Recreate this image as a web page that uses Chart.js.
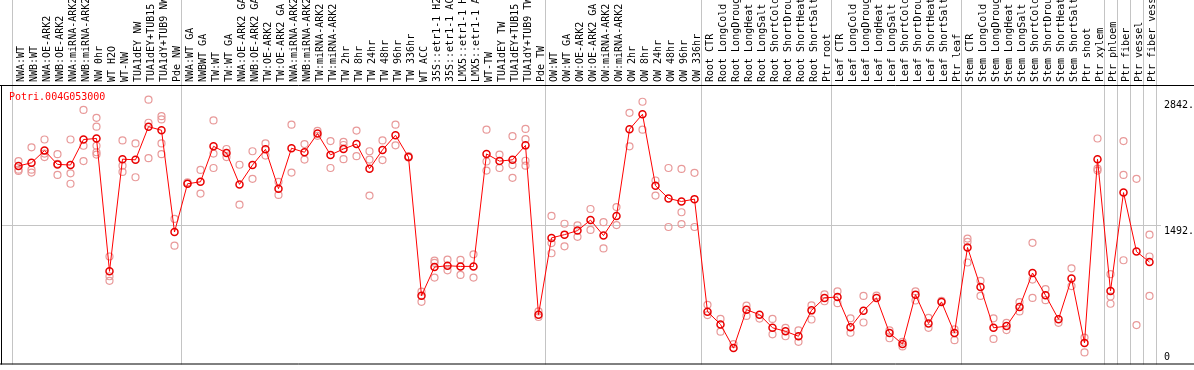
<!DOCTYPE html>
<html>
<head>
<meta charset="utf-8">
<script src="https://cdn.jsdelivr.net/npm/chart.js"></script>
<style>
  body { margin: 0; background: #fff; }
  canvas { display: block; }
</style>
</head>
<body>
<canvas id="myChart" width="1194" height="370"></canvas>
<script>
// sample names (cut to 14 characters like in the original plot)
const labels = [
  "NWA:WT", "NWB:WT", "NWA:OE-ARK2", "NWB:OE-ARK2", "NWA:miRNA-ARK2", "NWB:miRNA-ARK2",
  "NW 0hr", "WT H2O", "WT-NW", "TUA1dEY NW", "TUA1dEY+TUB15", "TUA1dY+TUB9 NW", "Pde NW",
  "NWA:WT GA", "NWBWT GA", "TW:WT", "TW:WT GA", "NWA:OE-ARK2 GA", "NWB:OE-ARK2 GA",
  "TW:OE-ARK2", "TW:OE-ARK2 GA", "NWA:miRNA-ARK2", "NWB:miRNA-ARK2", "TW:miRNA-ARK2",
  "TW:miRNA-ARK2", "TW 2hr", "TW 8hr", "TW 24hr", "TW 48hr", "TW 96hr", "TW 336hr",
  "WT ACC", "35S::etr1-1 H2", "35S::etr1-1 AC", "LMX5::etr1-1 H", "LMX5::etr1-1 A",
  "WT-TW", "TUA1dEY TW", "TUA1dEY+TUB15", "TUA1dY+TUB9 TW", "Pde TW",
  "OW:WT", "OW:WT GA", "OW:OE-ARK2", "OW:OE-ARK2 GA", "OW:miRNA-ARK2", "OW:miRNA-ARK2",
  "OW 2hr", "OW 8hr", "OW 24hr", "OW 48hr", "OW 96hr", "OW 336hr",
  "Root CTR", "Root LongCold", "Root LongDroug", "Root LongHeat", "Root LongSalt",
  "Root ShortCold", "Root ShortDrou", "Root ShortHeat", "Root ShortSalt", "Ptr root",
  "Leaf CTR", "Leaf LongCold", "Leaf LongDroug", "Leaf LongHeat", "Leaf LongSalt",
  "Leaf ShortCold", "Leaf ShortDrou", "Leaf ShortHeat", "Leaf ShortSalt", "Ptr leaf",
  "Stem CTR", "Stem LongCold", "Stem LongDroug", "Stem LongHeat", "Stem LongSalt",
  "Stem ShortCold", "Stem ShortDrou", "Stem ShortHeat", "Stem ShortSalt", "Ptr shoot",
  "Ptr xylem", "Ptr phloem", "Ptr fiber", "Ptr vessel", "Ptr fiber vess",
];

// mean expression per sample (red line)
const means = [
  2131, 2165, 2296, 2148, 2141, 2415, 2426, 1000, 2204, 2197, 2553, 2514, 1422,
  1940, 1961, 2342, 2271, 1933, 2141, 2310, 1887, 2321, 2278, 2479, 2250, 2313, 2366,
  2102, 2303, 2461, 2226, 739, 1046, 1060, 1053, 1053, 2260, 2183, 2197, 2352, 535,
  1359, 1394, 1437, 1550, 1384, 1595, 2525, 2686, 1919, 1782, 1750, 1775,
  567, 430, 176, 588, 535, 394, 356, 303, 581, 715,
  725, 401, 578, 715, 338, 219, 750, 440, 672, 338,
  1257, 831, 394, 412, 616, 982, 743, 486, 922, 232, 2204,
  789, 1845, 1212, 1099,
];

// single replicates per sample (pink circles)
const reps = [
  [2183, 2091, 2077], [2331, 2091, 2060], [2415, 2264, 2226], [2257, 2155, 2035],
  [2415, 2052, 1940], [2733, 2348, 2183], [2648, 2553, 2348, 2278, 2253], [1159, 947, 898],
  [2405, 2134, 2067], [2373, 2010], [2842, 2595, 2215], [2665, 2630, 2373, 2257], [1563, 1275],
  [1955, 1940], [2088, 1835], [2620, 2264, 2109], [2313, 2226], [2144, 1715], [2289, 1993],
  [2373, 2243], [1961, 1820], [2574, 2060], [2366, 2200], [2507, 2454], [2398, 2109],
  [2390, 2356, 2204], [2511, 2236], [2289, 2200, 1813], [2405, 2194], [2574, 2352],
  [2236, 2222], [782, 673], [1116, 1091, 933], [1126, 1011], [1123, 961], [1183, 933],
  [2521, 2179, 2081], [2253, 2109], [2451, 2141, 2004], [2528, 2419, 2187, 2134], [570, 510],
  [1595, 1303, 1194], [1511, 1268], [1493, 1370], [1669, 1444], [1528, 1246], [1690, 1497],
  [2701, 2342], [2820, 2521], [1975, 1813], [2109, 1476], [2099, 1634, 1507], [2057, 1476],
  [641, 531], [489, 352], [219], [631, 521], [493], [489, 324], [394, 303], [366, 243],
  [634, 483], [753, 679],
  [785, 658], [496, 341], [736, 451], [739], [366, 282], [243, 194], [785, 687], [500, 394],
  [683], [377, 261],
  [1352, 1317, 1095], [898, 736], [496, 275], [447, 370], [669, 570], [1306, 912, 715],
  [810, 690], [447], [1032, 842], [289, 130], [2426, 2102, 2081],
  [969, 729, 652], [2398, 2035, 1119], [1993, 423], [1394, 1159, 736],
];

const yTicks = [0, 1492, 2842];
const yTickLabels = ["0", "1492.", "2842."];
const geneId = "Potri.004G053000";

// grey lines before these samples (group borders)
const separators = [0, 13, 41, 53, 63, 73, 84, 85, 86, 87];

// one dataset per replicate slot, null where the sample has fewer
const repSeries = [];
for (let k = 0; k < 5; k++) {
  repSeries.push(reps.map((r) => (r[k] !== undefined ? r[k] : null)));
}

const monoFont = "'DejaVu Sans Mono', monospace";

const frame = {
  id: "frame",
  afterDraw(chart) {
    const c = chart.ctx;
    const area = chart.chartArea;
    const yScale = chart.scales.y;
    c.save();

    // grid line at 1492 also runs under the left margin
    c.strokeStyle = "#c4c4c4";
    c.lineWidth = 1;
    c.beginPath();
    const gy = Math.round(yScale.getPixelForValue(1492)) + 0.5;
    c.moveTo(1, gy);
    c.lineTo(area.left, gy);
    c.stroke();

    c.strokeStyle = "#000";
    c.beginPath();
    c.moveTo(0, area.top + 0.5);
    c.lineTo(chart.width, area.top + 0.5);
    c.moveTo(1.5, area.top);
    c.lineTo(1.5, area.bottom);
    c.moveTo(0, area.bottom - 0.5);
    c.lineTo(chart.width, area.bottom - 0.5);
    c.stroke();

    // value labels on the right
    c.font = "10px " + monoFont;
    c.fillStyle = "#000";
    c.textAlign = "left";
    yTicks.forEach((v, i) => {
      const py = yScale.getPixelForValue(v);
      if (v === 0) {
        c.textBaseline = "bottom";
        c.fillText(yTickLabels[i], area.right + 8, py - 2);
      } else {
        c.textBaseline = "top";
        c.fillText(yTickLabels[i], area.right + 8, py + 1);
      }
    });

    c.fillStyle = "#ff0000";
    c.textBaseline = "middle";
    c.fillText(geneId, 9, area.top + 12);
    c.restore();
  },
};

const datasets = [
  {
    label: "mean",
    data: means,
    borderColor: "#ff0000",
    borderWidth: 1,
    pointRadius: 3.5,
    pointBorderWidth: 1.5,
    pointBorderColor: "#e80000",
    pointBackgroundColor: "rgba(0,0,0,0)",
    tension: 0,
    order: 0,
  },
];
repSeries.forEach((s, k) => {
  datasets.push({
    label: "rep " + (k + 1),
    data: s,
    showLine: false,
    pointRadius: 3.5,
    pointBorderWidth: 1.2,
    pointBorderColor: "#e89a9a",
    pointBackgroundColor: "rgba(0,0,0,0)",
    order: 1,
  });
});

const ctx = document.getElementById("myChart");

new Chart(ctx, {
  type: "line",
  data: { labels: labels, datasets: datasets },
  options: {
    responsive: false,
    animation: false,
    layout: { padding: { left: 12, right: 38, top: 0, bottom: 1 } },
    plugins: {
      legend: { display: false },
      tooltip: { enabled: false },
    },
    scales: {
      x: {
        position: "top",
        offset: true,
        grid: {
          offset: true,
          drawTicks: true,
          tickLength: 85, // lines run up through the label strip
          color: (c) =>
            c.index === undefined || separators.includes(c.index)
              ? "#c4c4c4"
              : "rgba(0,0,0,0)",
        },
        border: { display: false },
        ticks: {
          autoSkip: false,
          minRotation: 90,
          maxRotation: 90,
          padding: -82,
          labelOffset: 15,
          color: "#000",
          font: { family: monoFont, size: 10 },
        },
        afterFit: (s) => {
          s.height = 85;
        },
      },
      y: {
        position: "right",
        min: 0,
        max: 3000,
        afterBuildTicks: (s) => {
          s.ticks = yTicks.map((v) => ({ value: v }));
        },
        ticks: { display: false },
        grid: {
          tickLength: 5,
          color: (c) =>
            c.tick && c.tick.value === 1492 ? "#c4c4c4" : "rgba(0,0,0,0)",
        },
        border: { display: false },
        afterFit: (s) => {
          s.width = 0;
        },
      },
    },
  },
  plugins: [frame],
});
</script>
</body>
</html>
